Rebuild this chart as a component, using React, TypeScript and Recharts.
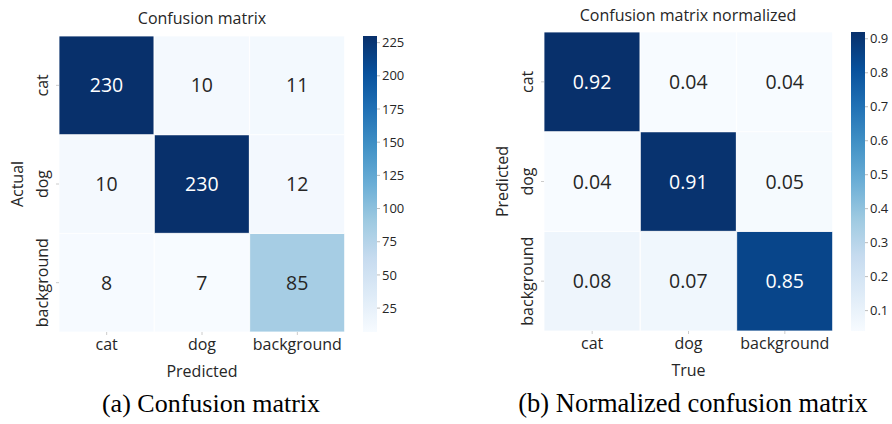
import React from "react";
import { BarChart, Bar, XAxis, YAxis, Cell, LabelList, Label } from "recharts";

const classes = ["cat", "dog", "background"];

// rows = actual, columns = predicted
const countRows = [
  [230, 10, 11],
  [10, 230, 12],
  [8, 7, 85],
];
const countRange = [7, 230];
const countTicks = [25, 50, 75, 100, 125, 150, 175, 200, 225];

// rows = predicted, columns = true
const normRows = [
  [0.92, 0.04, 0.04],
  [0.04, 0.91, 0.05],
  [0.08, 0.07, 0.85],
];
const normRange = [0.04, 0.92];
const normTicks = [0.1, 0.2, 0.3, 0.4, 0.5, 0.6, 0.7, 0.8, 0.9];

const FONT = "'Open Sans', sans-serif";
const TEXT = "#262626";
const BLUES = ["#f7fbff", "#deebf7", "#c6dbef", "#9ecae1", "#6baed6", "#4292c6", "#2171b5", "#08519c", "#08306b"];

function hex(c: string) {
  return [1, 3, 5].map((i) => parseInt(c.slice(i, i + 2), 16));
}

function blues(t: number) {
  const s = Math.max(0, Math.min(1, t)) * (BLUES.length - 1);
  const i = Math.min(Math.floor(s), BLUES.length - 2);
  const f = s - i;
  const a = hex(BLUES[i]);
  const b = hex(BLUES[i + 1]);
  const m = a.map((v, k) => Math.round(v + (b[k] - v) * f));
  return `rgb(${m[0]},${m[1]},${m[2]})`;
}

type HeatProps = {
  rows: number[][];
  range: number[];
  fmt: (v: number) => string;
  xTitle: string;
  yTitle: string;
  margin: { top: number; right: number; bottom: number; left: number };
  yAxisWidth: number;
};

function Heatmap({ rows, range, fmt, xTitle, yTitle, margin, yAxisWidth }: HeatProps) {
  const norm = (v: number) => (v - range[0]) / (range[1] - range[0]);
  const data = classes.map((name, j) => {
    const d: any = { name };
    classes.forEach((r, i) => {
      d[r] = 1;
      d["v_" + r] = rows[i][j];
    });
    return d;
  });

  const renderValue = (p: any) => {
    const x = p.x ?? p.viewBox?.x;
    const y = p.y ?? p.viewBox?.y;
    const w = p.width ?? p.viewBox?.width;
    const h = p.height ?? p.viewBox?.height;
    const v = Number(p.value);
    return (
      <text x={x + w / 2} y={y + h / 2} dy="0.36em" textAnchor="middle" fontSize={19.5} fontFamily={FONT}
        fill={norm(v) > 0.6 ? "#ffffff" : TEXT}>
        {fmt(v)}
      </text>
    );
  };

  const yTick = (p: any) => {
    const idx = classes.length - 1 - Math.floor(p.payload.value);
    const bx = p.x - 6;
    return (
      <text x={bx} y={p.y} transform={`rotate(-90, ${bx}, ${p.y})`} textAnchor="middle" fontSize={16}
        fontFamily={FONT} fill={TEXT}>
        {classes[idx]}
      </text>
    );
  };

  const xTick = (p: any) => (
    <text x={p.x} y={p.y + 13} textAnchor="middle" fontSize={16} fontFamily={FONT} fill={TEXT}>
      {p.payload.value}
    </text>
  );

  return (
    <BarChart width={446} height={424} data={data} margin={margin} barCategoryGap={0} barGap={0}>
      <XAxis dataKey="name" type="category" axisLine={false} tickSize={3} tickLine={{ stroke: "#cccccc" }}
        tick={xTick} height={50} interval={0}>
        <Label content={(p: any) => (
          <text x={p.viewBox.x + p.viewBox.width / 2} y={p.viewBox.y + 45} textAnchor="middle" fontSize={16}
            fontFamily={FONT} fill={TEXT}>{xTitle}</text>
        )} />
      </XAxis>
      <YAxis type="number" domain={[0, classes.length]} ticks={[0.5, 1.5, 2.5]} axisLine={false} tickSize={3}
        tickLine={{ stroke: "#cccccc" }} tick={yTick} width={yAxisWidth}>
        <Label content={(p: any) => {
          const bx = p.viewBox.x + p.viewBox.width - 36;
          const cy = p.viewBox.y + p.viewBox.height / 2;
          return (
            <text x={bx} y={cy} transform={`rotate(-90, ${bx}, ${cy})`} textAnchor="middle" fontSize={16}
              fontFamily={FONT} fill={TEXT}>{yTitle}</text>
          );
        }} />
      </YAxis>
      {[...classes].reverse().map((r) => (
        <Bar key={r} dataKey={r} stackId="m" isAnimationActive={false} stroke="#ffffff" strokeWidth={0.8}>
          {data.map((d, j) => (
            <Cell key={j} fill={blues(norm(d["v_" + r]))} />
          ))}
          <LabelList dataKey={"v_" + r} content={renderValue} />
        </Bar>
      ))}
    </BarChart>
  );
}

function ColorBar({ id, range, ticks, fmt, top, bottom }: { id: string; range: number[]; ticks: number[]; fmt: (v: number) => string; top: number; bottom: number }) {
  const data = [{ name: "cb", span: range }];
  return (
    <BarChart width={56} height={424} data={data} margin={{ top, bottom, left: 0, right: 0 }} barCategoryGap={0}>
      <defs>
        <linearGradient id={id} x1="0" y1="0" x2="0" y2="1">
          {BLUES.map((c, i) => (
            <stop key={i} offset={`${(i / (BLUES.length - 1)) * 100}%`} stopColor={BLUES[BLUES.length - 1 - i]} />
          ))}
        </linearGradient>
      </defs>
      <XAxis dataKey="name" hide />
      <YAxis orientation="right" type="number" domain={range} ticks={ticks} axisLine={false} tickSize={3}
        tickLine={{ stroke: "#bbbbbb" }} width={42} tickFormatter={fmt}
        tick={{ fontSize: 13, fontFamily: FONT, fill: TEXT }} />
      <Bar dataKey="span" fill={`url(#${id})`} isAnimationActive={false} />
    </BarChart>
  );
}

export default function App() {
  return (
    <div style={{ position: "absolute", left: 0, top: 0, width: 892, height: 424, background: "#ffffff", overflow: "hidden" }}>
      <div style={{ position: "absolute", left: 0, top: 0 }}>
        <Heatmap rows={countRows} range={countRange} fmt={(v) => String(v)} xTitle="Predicted" yTitle="Actual"
          margin={{ top: 36, right: 101, bottom: 42, left: 0 }} yAxisWidth={59} />
      </div>
      <div style={{ position: "absolute", left: 363, top: 0 }}>
        <ColorBar id="cbA" range={countRange} ticks={countTicks} fmt={(v) => String(v)} top={36} bottom={92} />
      </div>
      <div style={{ position: "absolute", left: 446, top: 0 }}>
        <Heatmap rows={normRows} range={normRange} fmt={(v) => v.toFixed(2)} xTitle="True" yTitle="Predicted"
          margin={{ top: 32, right: 59, bottom: 43, left: 0 }} yAxisWidth={98} />
      </div>
      <div style={{ position: "absolute", left: 851, top: 0 }}>
        <ColorBar id="cbB" range={normRange} ticks={normTicks} fmt={(v) => v.toFixed(1)} top={32} bottom={93} />
      </div>
      <svg width={892} height={424} style={{ position: "absolute", left: 0, top: 0, pointerEvents: "none" }}>
        <text x={202} y={24} textAnchor="middle" fontSize={16} fontFamily={FONT} fill={TEXT}>Confusion matrix</text>
        <text x={688} y={21} textAnchor="middle" fontSize={16} fontFamily={FONT} fill={TEXT}>Confusion matrix normalized</text>
        <text x={211} y={412} textAnchor="middle" fontSize={26} fontFamily="'Liberation Serif', serif" fill="#000">(a) Confusion matrix</text>
        <text x={693} y={412} textAnchor="middle" fontSize={26.5} fontFamily="'Liberation Serif', serif" fill="#000">(b) Normalized confusion matrix</text>
      </svg>
    </div>
  );
}
